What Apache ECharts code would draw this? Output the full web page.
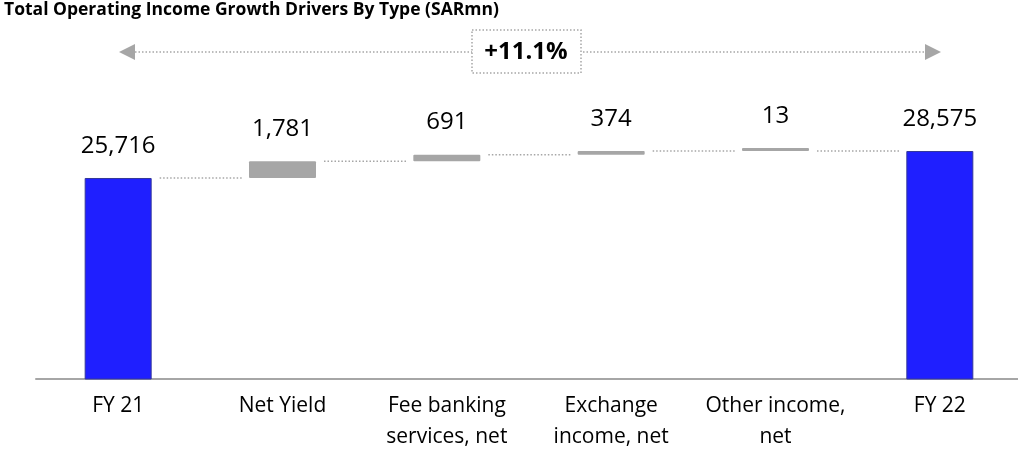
<!DOCTYPE html>
<html>
<head>
<meta charset="utf-8">
<script src="https://cdn.jsdelivr.net/npm/echarts@6/dist/echarts.min.js"></script>
<style>
  html, body { margin: 0; padding: 0; background: #fff; }
  #chart { width: 1018px; height: 450px; }
</style>
</head>
<body>
<div id="chart"></div>
<script>
// data
const categories = ['FY 21', 'Net Yield', 'Fee banking\nservices, net', 'Exchange\nincome, net', 'Other income,\nnet', 'FY 22'];
const startTotal = 25716;
const endTotal = 28575;
const drivers = [1781, 691, 374, 13];

const FONT = '"Open Sans", "Noto Sans", sans-serif';
const BAR_W = 67;

// build waterfall pieces
const baseData = ['-'];
const deltaData = ['-'];
const totalData = [startTotal];
const levels = [startTotal];
let run = startTotal;
drivers.forEach(d => {
  baseData.push(run);
  deltaData.push(d);
  totalData.push('-');
  run += d;
  levels.push(run);
});
baseData.push('-');
deltaData.push('-');
totalData[categories.length - 1] = endTotal;

// connector segments [from index, to index, level]
const connectors = [];
for (let i = 0; i < categories.length - 1; i++) {
  connectors.push([i, i + 1, levels[i]]);
}

const growth = '+' + ((endTotal / startTotal - 1) * 100).toFixed(1) + '%';

const myChart = echarts.init(document.getElementById('chart'));

const valueLabel = {
  show: true,
  position: 'top',
  distance: 20,
  fontFamily: FONT,
  fontSize: 24,
  color: '#000',
  formatter: p => p.value.toLocaleString('en-US')
};

const option = {
  animation: false,
  title: {
    text: 'Total Operating Income Growth Drivers By Type (SARmn)',
    left: 4,
    top: 1,
    padding: 0,
    textStyle: { fontFamily: FONT, fontWeight: 'bold', fontSize: 17.5, color: '#000' }
  },
  grid: { left: 36, right: -4, top: 100, bottom: 71, containLabel: false, outerBoundsMode: 'none' },
  xAxis: {
    type: 'category',
    data: categories,
    axisLine: { lineStyle: { color: '#a6a6a6', width: 2 } },
    axisTick: { show: false },
    axisLabel: {
      interval: 0,
      margin: 12,
      fontFamily: FONT,
      fontSize: 21,
      lineHeight: 31,
      color: '#000'
    }
  },
  yAxis: {
    type: 'value',
    min: 4430,
    max: 33976,
    show: false,
    splitLine: { show: false }
  },
  series: [
    {
      name: 'base',
      type: 'bar',
      stack: 'w',
      barWidth: BAR_W,
      itemStyle: { color: 'transparent' },
      data: baseData
    },
    {
      name: 'driver',
      type: 'bar',
      stack: 'w',
      barWidth: BAR_W,
      barMinHeight: 3,
      itemStyle: { color: '#a6a6a6', borderRadius: 1 },
      label: valueLabel,
      data: deltaData
    },
    {
      name: 'total',
      type: 'bar',
      stack: 'w',
      barWidth: BAR_W,
      itemStyle: { color: '#1f1fff', borderColor: '#34389a', borderWidth: 1 },
      label: valueLabel,
      data: totalData
    },
    {
      name: 'connector',
      type: 'custom',
      encode: { x: [0, 1], y: 2 },
      renderItem: function (params, api) {
        const a = api.coord([api.value(0), api.value(2)]);
        const b = api.coord([api.value(1), api.value(2)]);
        return {
          type: 'line',
          shape: { x1: a[0] + BAR_W / 2 + 8, y1: a[1], x2: b[0] - BAR_W / 2 - 6, y2: b[1] },
          style: { stroke: '#a6a6a6', lineWidth: 1.5, lineDash: [1.5, 2] }
        };
      },
      data: connectors,
      z: 1
    }
  ],
  graphic: [
    {
      type: 'line',
      shape: { x1: 135, y1: 52, x2: 925, y2: 52 },
      style: { stroke: '#a6a6a6', lineWidth: 1.5, lineDash: [1.5, 2] }
    },
    {
      type: 'polygon',
      shape: { points: [[119, 52], [135, 44], [135, 60]] },
      style: { fill: '#a6a6a6' }
    },
    {
      type: 'polygon',
      shape: { points: [[941, 52], [925, 44], [925, 60]] },
      style: { fill: '#a6a6a6' }
    },
    {
      type: 'rect',
      shape: { x: 472, y: 30, width: 109, height: 43 },
      style: { fill: '#fff', stroke: '#a6a6a6', lineWidth: 1.5, lineDash: [1.5, 2] }
    },
    {
      type: 'text',
      x: 526,
      y: 52,
      style: {
        text: growth,
        fontFamily: FONT,
        fontWeight: 'bold',
        fontSize: 24,
        fill: '#000',
        align: 'center',
        verticalAlign: 'middle'
      }
    }
  ]
};

option && myChart.setOption(option);
</script>
</body>
</html>
